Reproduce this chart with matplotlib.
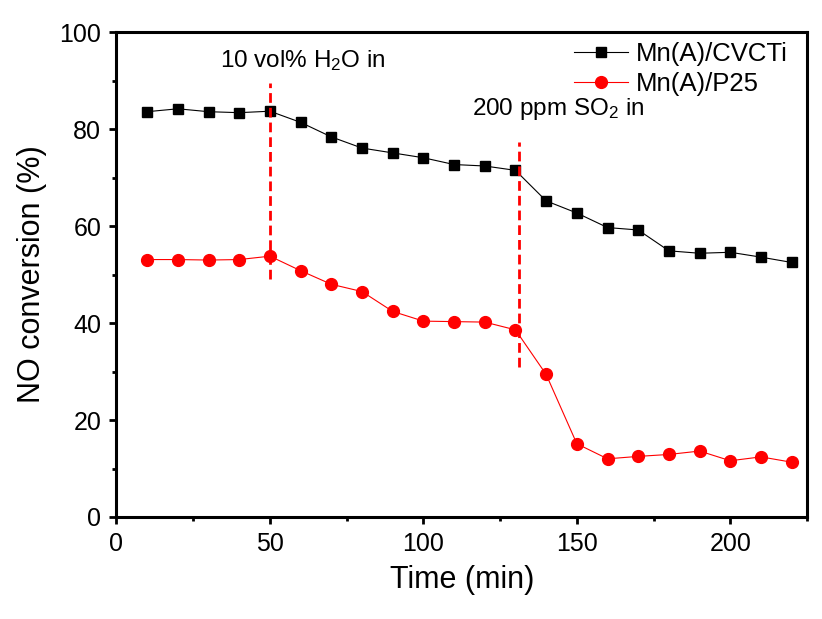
import matplotlib
matplotlib.use("Agg")
import matplotlib.pyplot as plt
from matplotlib.ticker import MultipleLocator

plt.rcParams['font.family'] = ['Liberation Sans', 'DejaVu Sans']
plt.rcParams['mathtext.fontset'] = 'custom'
plt.rcParams['mathtext.rm'] = 'Liberation Sans'
plt.rcParams['mathtext.it'] = 'Liberation Sans:italic'

# data
time_min = [10, 20, 30, 40, 50, 60, 70, 80, 90, 100, 110,
            120, 130, 140, 150, 160, 170, 180, 190, 200, 210, 220]
cvcti = [83.6, 84.2, 83.6, 83.4, 83.7, 81.4, 78.4, 76.1, 75.1, 74.1, 72.7,
         72.4, 71.5, 65.2, 62.7, 59.7, 59.2, 54.9, 54.4, 54.6, 53.6, 52.5]
p25 = [53.1, 53.1, 53.0, 53.1, 53.8, 50.8, 48.0, 46.5, 42.4, 40.4, 40.3,
       40.2, 38.6, 29.4, 15.1, 12.0, 12.5, 12.9, 13.6, 11.6, 12.4, 11.3]

h2o_time = 50
h2o_span = [49.0, 89.5]
so2_time = 131
so2_span = [31.0, 77.4]

fig = plt.figure(figsize=(8.22, 6.19), dpi=100)
ax = fig.add_axes([0.1417, 0.1648, 0.9818 - 0.1417, 0.948 - 0.1648])

ax.plot(time_min, cvcti, color='black', linewidth=0.8, marker='s',
        markersize=7, label='Mn(A)/CVCTi')
ax.plot(time_min, p25, color='#ff0000', linewidth=0.8, marker='o',
        markersize=8.5, label='Mn(A)/P25')

ax.plot([h2o_time, h2o_time], h2o_span, color='#ff0000', linewidth=2,
        linestyle=(0, (3.5, 1.8)))
ax.plot([so2_time, so2_time], so2_span, color='#ff0000', linewidth=2,
        linestyle=(0, (3.5, 1.8)))

ax.text(33.7, 92.8, '10 vol% H$_2$O in', fontsize=17.5)
ax.text(115.8, 82.9, '200 ppm SO$_2$ in', fontsize=17.5)

ax.set_xlim(0, 225)
ax.set_ylim(0, 100)
ax.xaxis.set_major_locator(MultipleLocator(50))
ax.xaxis.set_minor_locator(MultipleLocator(25))
ax.yaxis.set_major_locator(MultipleLocator(20))
ax.yaxis.set_minor_locator(MultipleLocator(10))

for s in ax.spines.values():
    s.set_linewidth(2.2)
ax.tick_params(which='major', direction='out', length=5, width=2,
               labelsize=18, pad=6)
ax.tick_params(which='minor', direction='out', length=3, width=2)

ax.set_xlabel('Time (min)', fontsize=22, labelpad=6)
ax.set_ylabel('NO conversion (%)', fontsize=22, labelpad=9)

ax.legend(loc='upper right', frameon=False, fontsize=18.5, handlelength=2.1,
          handletextpad=0.3, borderaxespad=0.0, labelspacing=0.2,
          bbox_to_anchor=(0.987, 1.0))

fig.savefig('out.png', dpi=100)
